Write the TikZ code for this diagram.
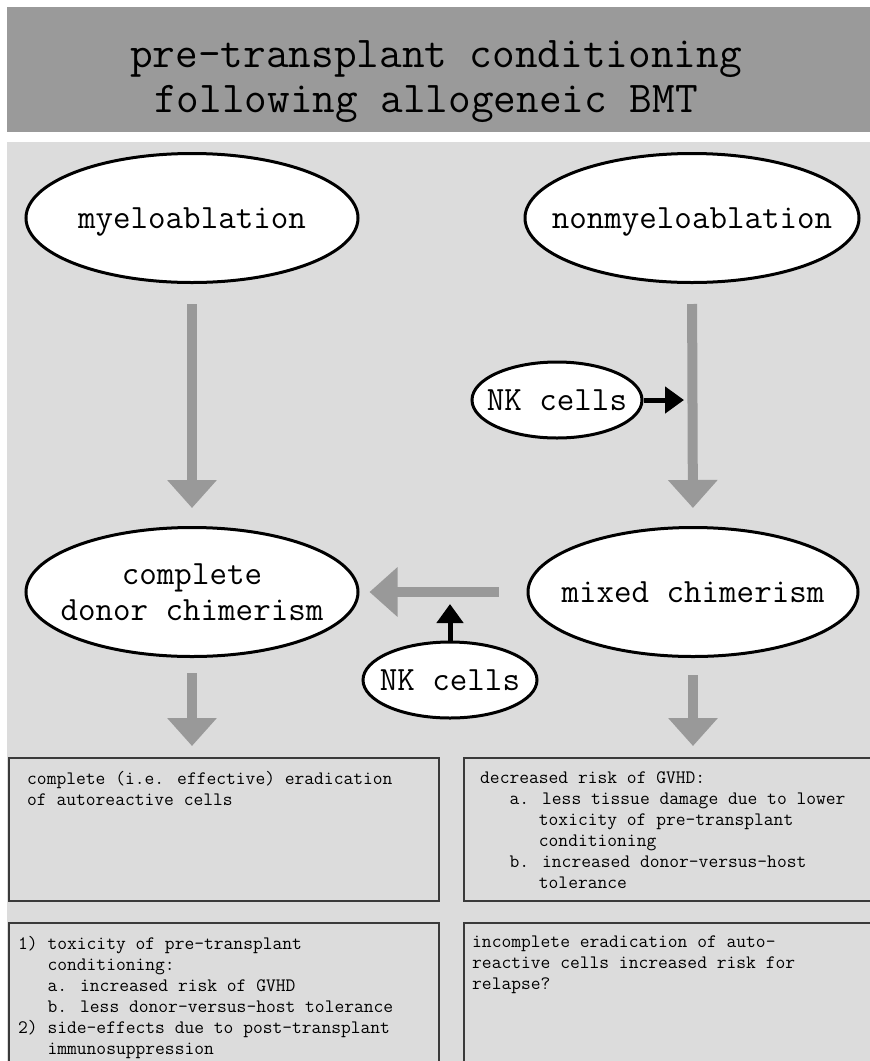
\documentclass[tikz,border=0pt]{standalone}
\usepackage{fontspec}
\usetikzlibrary{shapes.geometric,arrows.meta}
\definecolor{bandgray}{HTML}{9A9A9A}
\definecolor{panelgray}{HTML}{DCDCDC}
\definecolor{arrowgray}{HTML}{999999}
\definecolor{boxline}{HTML}{3A3A3A}
\tikzset{
  oval/.style={ellipse, draw=black, line width=3pt, fill=white, inner sep=0pt,
    font=\fontsize{34}{36}\selectfont\ttfamily},
  bigoval/.style={oval, minimum width=332pt, minimum height=129pt},
  nkoval/.style={oval, minimum width=172pt, minimum height=76pt},
  grayarrow/.style={draw=arrowgray, line width=10pt, -{Triangle[length=28pt,width=48pt]}},
  blackarrow/.style={draw=black, line width=5pt, -{Triangle[length=19pt,width=26pt]}},
  infobox/.style={draw=boxline, line width=2pt, fill=panelgray, inner sep=0pt, anchor=north west},
  boxtext/.style={anchor=north west, inner sep=0pt, align=left,
    font=\fontsize{19}{21}\selectfont\ttfamily},
  titletext/.style={anchor=base, inner sep=0pt, font=\fontsize{44}{40}\selectfont\ttfamily}
}
\newcommand\indA{\phantom{xxx}}
\newcommand\indB{\phantom{xxxxxx}}
\newcommand\ovtext[1]{\makebox[0pt]{\raisebox{-10pt}[0pt][0pt]{#1}}}
\begin{document}
\begin{tikzpicture}[x=1pt,y=-1pt]
\useasboundingbox (0,0) rectangle (870,1061);
\fill[white] (0,0) rectangle (870,1061);
% title band and panel
\fill[bandgray] (7,7) rectangle (870,132);
\fill[panelgray] (7,142) rectangle (870,1061);
\node[titletext] (t1) at (436,67) {pre-transplant conditioning};
\node[titletext] (t2) at (426,112) {following allogeneic BMT};

% ellipses
\node[bigoval] (myelo) at (192,218) {\ovtext{myeloablation}};
\node[bigoval, minimum width=334pt] (nonmyelo) at (692,218) {\ovtext{nonmyeloablation}};
\node[bigoval] (cdc) at (192,592) {\ovtext{\begin{tabular}{@{}c@{}}complete\\donor chimerism\end{tabular}}};
\node[bigoval, minimum width=330pt] (mixed) at (693,592) {\ovtext{mixed chimerism}};
\node[nkoval, minimum width=170pt] (nk1) at (557,400) {\ovtext{NK cells}};
\node[nkoval, minimum width=174pt] (nk2) at (450,680) {\ovtext{NK cells}};

% boxes
\node[infobox, minimum width=430pt, minimum height=143pt] (b1) at (8,757) {};
\node[infobox, minimum width=412pt, minimum height=143pt] (b2) at (463,757) {};
\node[infobox, minimum width=430pt, minimum height=146pt] (b3) at (8,922) {};
\node[infobox, minimum width=412pt, minimum height=146pt] (b4) at (463,922) {};

\node[boxtext] (b1t) at ([shift={(19,14)}]b1.north west)
  {complete (i.e. effective) eradication\\of autoreactive cells};
\node[boxtext] (b2t) at ([shift={(17,14)}]b2.north west)
  {decreased risk of GVHD:\\
   \indA a. less tissue damage due to lower\\
   \indB toxicity of pre-transplant\\
   \indB conditioning\\
   \indA b. increased donor-versus-host\\
   \indB tolerance};
\node[boxtext] (b3t) at ([shift={(10,14)}]b3.north west)
  {1) toxicity of pre-transplant\\
   \indA conditioning:\\
   \indA a. increased risk of GVHD\\
   \indA b. less donor-versus-host tolerance\\
   2) side-effects due to post-transplant\\
   \indA immunosuppression};
\node[boxtext] (b4t) at ([shift={(9,14)}]b4.north west)
  {incomplete eradication of auto-\\
   reactive cells increased risk for\\
   relapse?};

% connectors
\draw[grayarrow, shorten <=20pt, shorten >=18pt] (myelo.south) -- (cdc.north);
\draw[grayarrow, shorten <=20pt, shorten >=18pt] (nonmyelo.south) -- (mixed.north);
\draw[grayarrow, shorten <=28pt, shorten >=10pt] (mixed.west) -- (cdc.east);
\draw[grayarrow, shorten <=15pt, shorten >=11pt] (cdc.south) -- (cdc.south |- b1.north);
\draw[grayarrow, shorten <=17pt, shorten >=11pt] (mixed.south) -- (mixed.south |- b2.north);
\draw[blackarrow, shorten >=9pt] (nk1.east) -- (nk1.east -| mixed.center);
\draw[blackarrow, shorten >=12pt] (nk2.north) -- (nk2.north |- mixed.center);
\end{tikzpicture}
\end{document}
